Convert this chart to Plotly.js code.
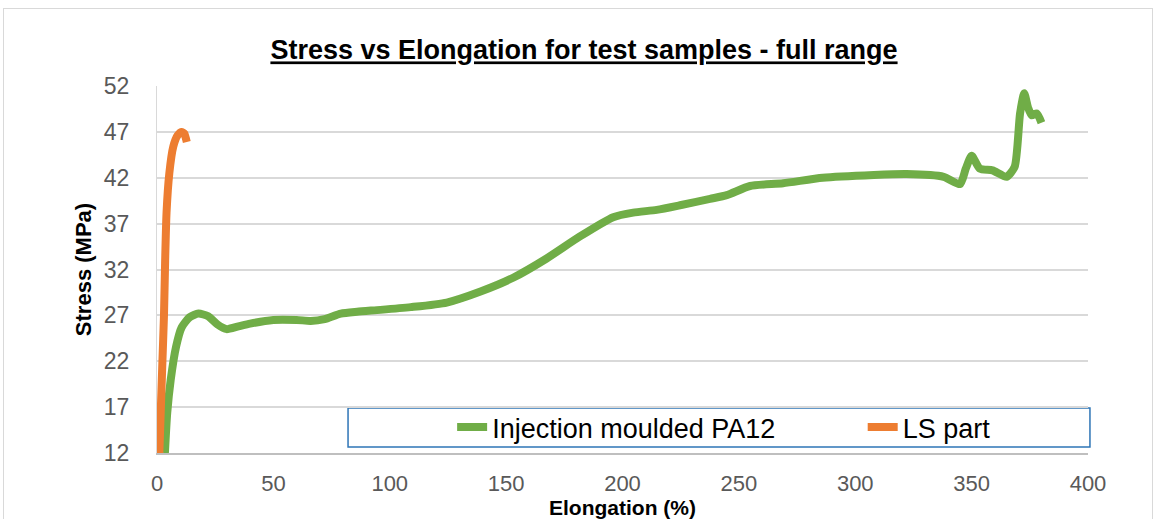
<!DOCTYPE html>
<html>
<head>
<meta charset="utf-8">
<script src="https://cdn.plot.ly/plotly-3.0.1.min.js"></script>
<style>
html,body{margin:0;padding:0;background:#fff;}
#wrap{position:relative;width:1155px;height:519px;overflow:hidden;}
#frame{position:absolute;left:3px;top:8px;width:1148px;height:530px;border:1px solid #d9d9d9;pointer-events:none;}
#chart{position:absolute;left:0;top:0;width:1155px;height:519px;}
</style>
</head>
<body>
<div id="wrap"><div id="chart"></div><div id="frame"></div></div>
<script>
// Injection moulded PA12
const pa12Elong = [3.4, 4.4, 5.9, 8.2, 10.6, 14, 17.8, 22, 26, 29.9, 35, 40, 50, 60, 66, 72, 79, 86, 96, 109, 124.5, 139, 153, 167.4, 181.7, 196, 204.6, 214.7, 224.7, 237.6, 244.8, 254.8, 269, 286, 308, 322, 338, 345, 347.5, 350, 353.5, 359, 365, 368.5, 370.8, 372.6, 374.3, 375.8, 378, 380];
const pa12Stress = [12, 16.4, 20, 23.6, 25.7, 26.8, 27.2, 26.9, 26.0, 25.5, 25.8, 26.1, 26.5, 26.5, 26.4, 26.6, 27.2, 27.4, 27.6, 27.9, 28.4, 29.6, 31.1, 33.2, 35.6, 37.7, 38.2, 38.5, 39.0, 39.7, 40.1, 41.1, 41.4, 42.0, 42.3, 42.4, 42.1, 41.3, 43.0, 44.4, 43.0, 42.8, 42.1, 43.2, 49.0, 51.2, 49.6, 48.8, 49.0, 48.0];
// LS part
const lsElong = [1.0, 1.6, 2.3, 3.0, 3.5, 4.1, 5.3, 7.0, 8.8, 10.5, 11.8, 12.5, 12.8];
const lsStress = [12, 16.4, 21.8, 27, 33, 38.2, 42.5, 45.4, 46.6, 47.0, 46.8, 46.2, 45.9];
// ticks
const yTicks = [12, 17, 22, 27, 32, 37, 42, 47, 52];
const xTicks = [0, 50, 100, 150, 200, 250, 300, 350, 400];

const traces = [
  {x: pa12Elong, y: pa12Stress, name: 'Injection moulded PA12', type: 'scatter', mode: 'lines', legend: 'legend',
   line: {color: '#70AD47', width: 8, shape: 'spline', smoothing: 0.6}},
  {x: lsElong, y: lsStress, name: 'LS part', type: 'scatter', mode: 'lines', legend: 'legend2',
   line: {color: '#ED7D31', width: 8, shape: 'spline', smoothing: 0.6}}
];

const FONT = 'Liberation Sans, Arial, sans-serif';
const legFont = {family: FONT, size: 27, color: '#000'};
const layout = {
  width: 1155, height: 519,
  margin: {l: 157, r: 67, t: 86, b: 66, pad: 0},
  paper_bgcolor: 'rgba(0,0,0,0)', plot_bgcolor: '#fff',
  title: {text: '<b><u>Stress vs Elongation for test samples - full range</u></b>',
          font: {family: FONT, size: 27, color: '#000'},
          x: 584/1155, xref: 'container', y: 1 - 50/519, yref: 'container', yanchor: 'middle', xanchor: 'center'},
  xaxis: {range: [0, 400], tickvals: xTicks, ticktext: xTicks.map(String), showgrid: false, zeroline: false,
          showline: true, linecolor: '#bfbfbf', linewidth: 2, ticks: '', tickfont: {family: FONT, size: 22, color: '#595959'}, ticklabelstandoff: 10,
          title: {text: '<b>Elongation (%)</b>', standoff: 21, font: {family: FONT, size: 21, color: '#000'}}},
  yaxis: {range: [12, 52], tickvals: yTicks, ticktext: yTicks.map(String), showgrid: true, gridcolor: '#d9d9d9', gridwidth: 2,
          zeroline: false, showline: true, linecolor: '#d9d9d9', linewidth: 1, ticks: '', tickfont: {family: FONT, size: 23, color: '#595959'},
          ticklabelstandoff: 22,
          title: {text: '<b>Stress (MPa)</b>', standoff: 6, font: {family: FONT, size: 22, color: '#000'}}},
  showlegend: true,
  legend: {orientation: 'h', x: 0.317, xanchor: 'left', y: 0.0695, yanchor: 'middle',
           bgcolor: 'rgba(0,0,0,0)', borderwidth: 0, font: legFont},
  legend2: {orientation: 'h', x: 0.758, xanchor: 'left', y: 0.0695, yanchor: 'middle',
           bgcolor: 'rgba(0,0,0,0)', borderwidth: 0, font: legFont},
  shapes: [{type: 'rect', xref: 'paper', yref: 'paper', x0: 0.2052, x1: 1.0021, y0: 0.0163, y1: 0.1226,
            line: {color: '#2E75B6', width: 1.5}, fillcolor: '#ffffff', layer: 'below'}]
};
Plotly.newPlot('chart', traces, layout, {displayModeBar: false, staticPlot: true});
</script>
</body>
</html>
